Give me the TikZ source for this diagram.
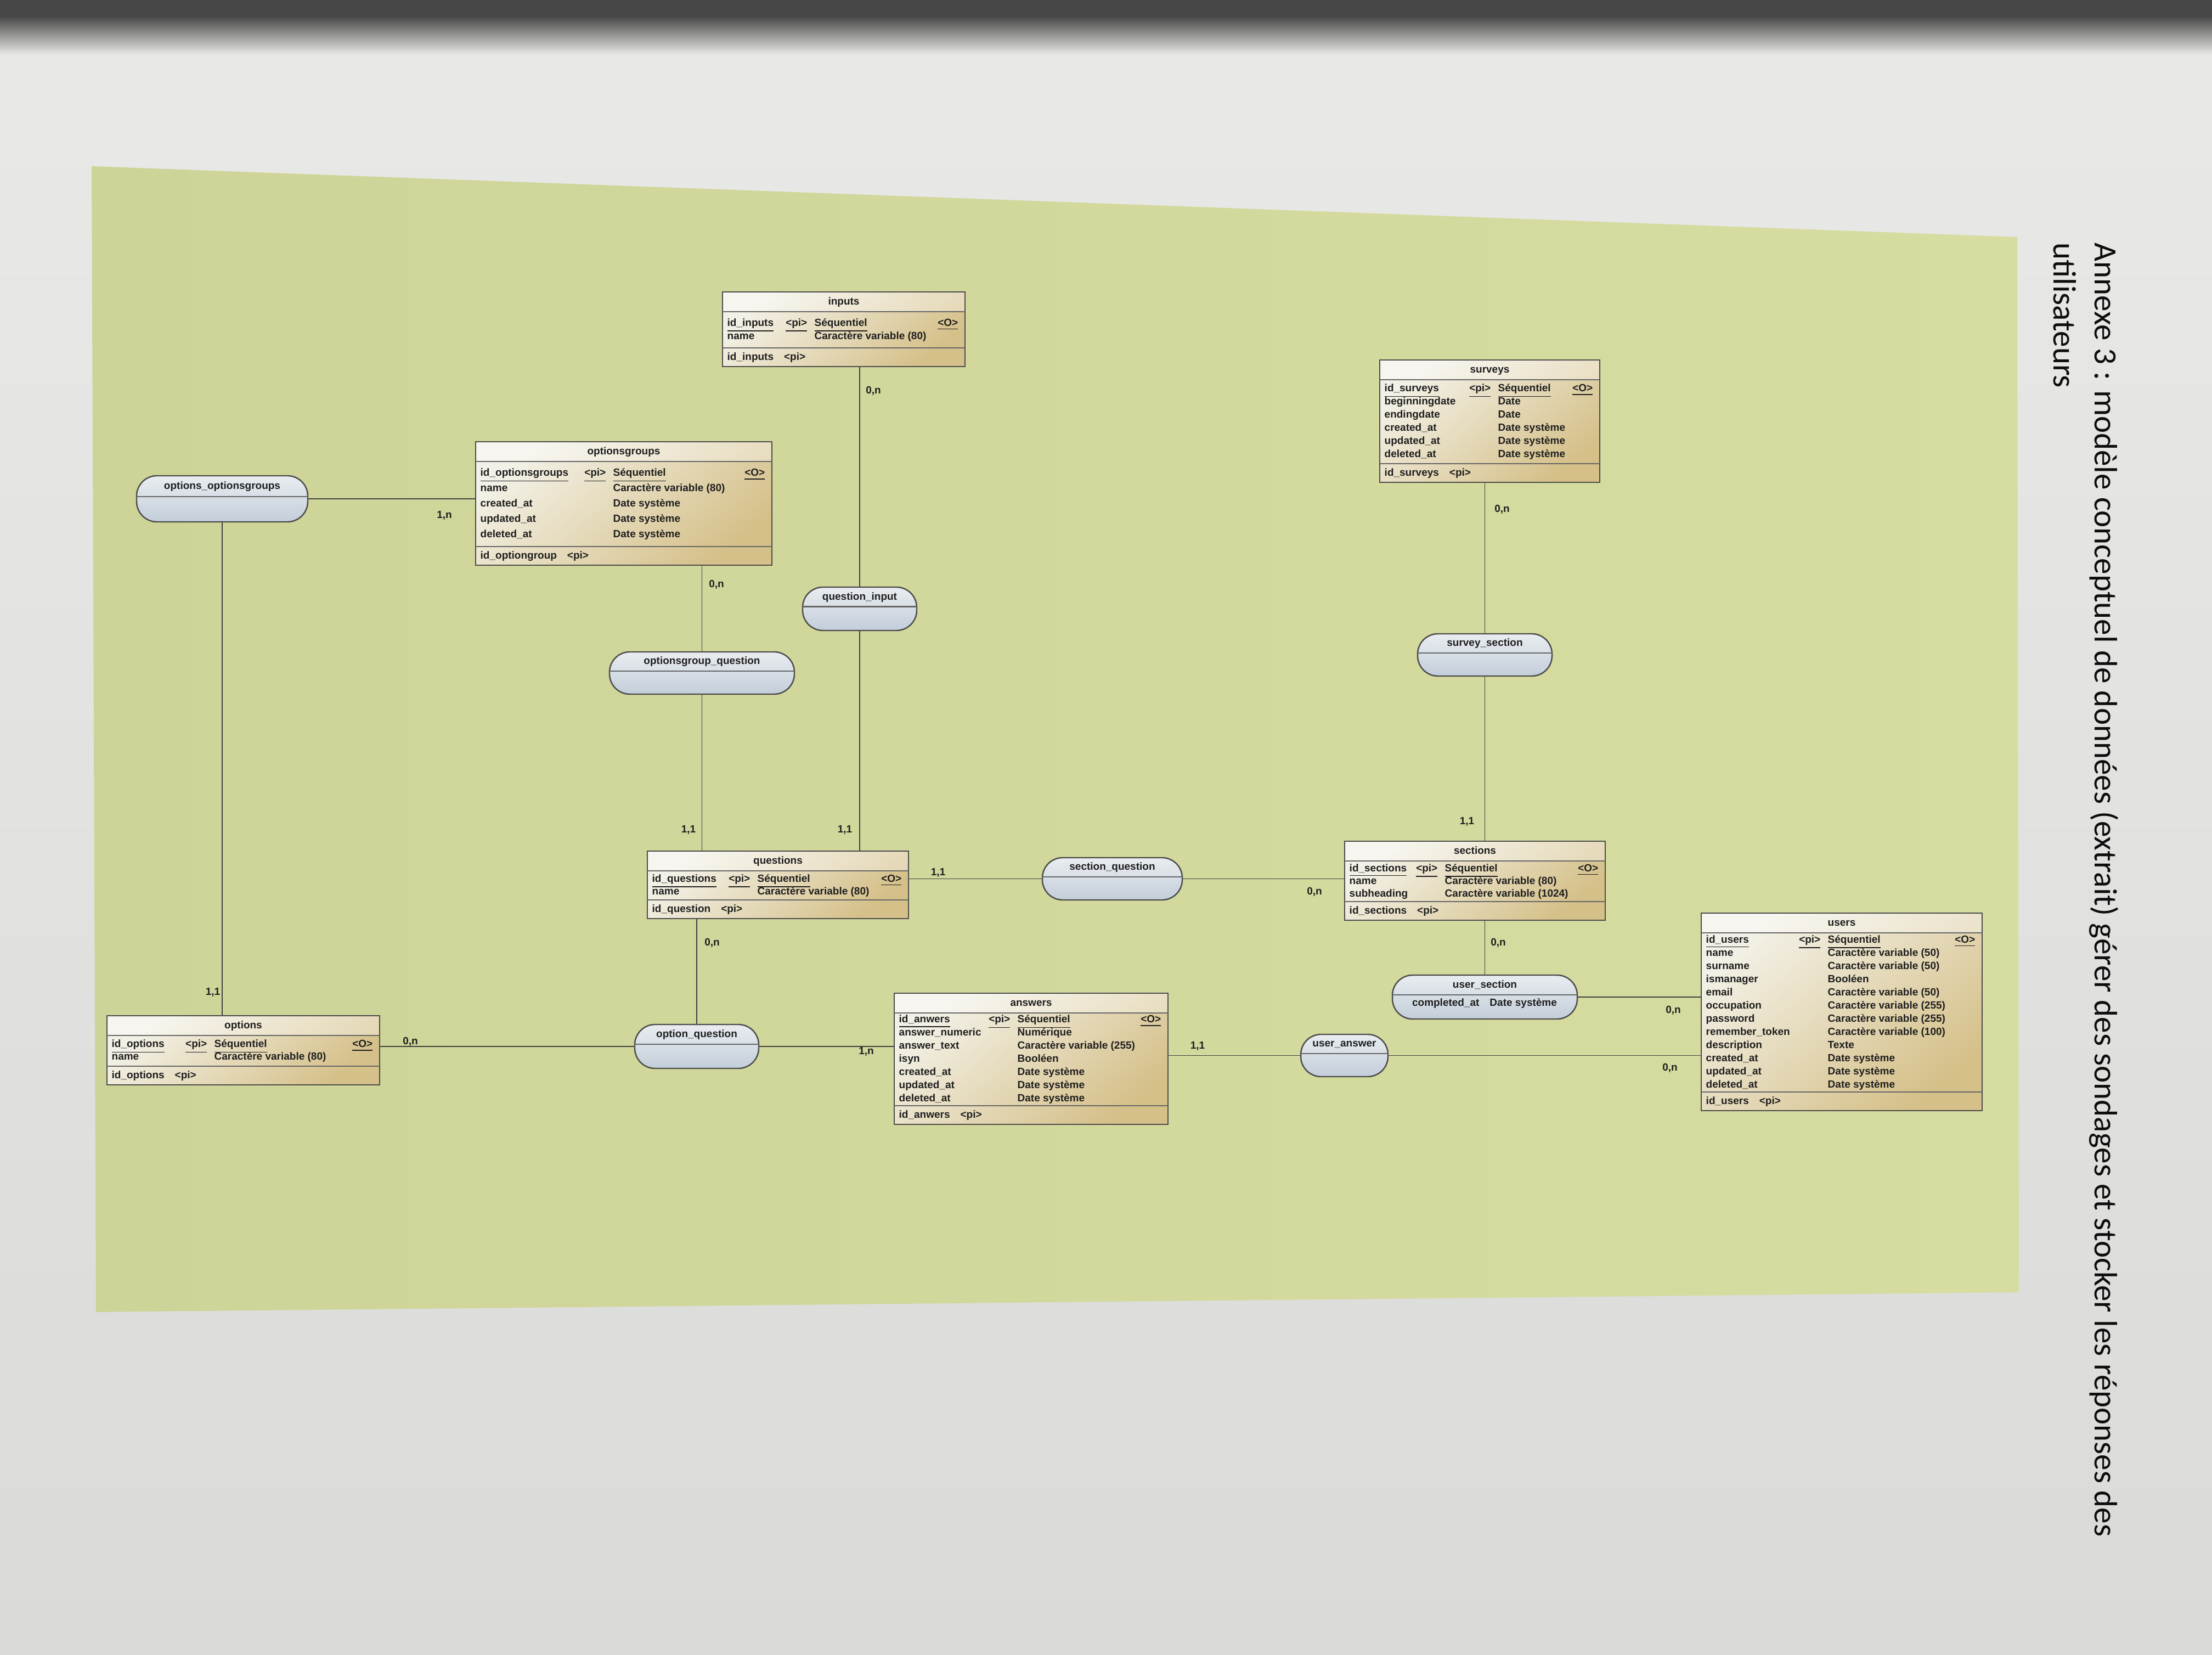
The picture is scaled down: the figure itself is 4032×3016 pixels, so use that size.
\documentclass[tikz,border=0pt]{standalone}
\usepackage{fontspec}
\setmainfont{Liberation Sans}
\newfontfamily\titlefont{Carlito}
\usetikzlibrary{fit}
\definecolor{pagebg}{HTML}{E9E9E7}
\definecolor{pagebgb}{HTML}{DADAD8}
\definecolor{greenbg}{HTML}{D7DCA0}
\definecolor{greenbgb}{HTML}{CED497}
\definecolor{entlight}{HTML}{F3F1E7}
\definecolor{enttan}{HTML}{D5C089}
\definecolor{assolight}{HTML}{E9EDF0}
\definecolor{assodark}{HTML}{C3CEDA}
\definecolor{inkc}{HTML}{1E1E1E}

\newcommand{\EntGeo}[7]{\def\EX{#1}\def\EY{#2}\def\EXX{#3}\def\EYY{#4}\def\ET{#5}\def\ES{#6}\def\EN{#7}}
\newcommand{\Entity}[5]{%
  \node[ent, fit={(\EX,\EY) (\EXX,\EYY)}] (#1) {};
  \fill[white, opacity=0.35] (\EX+1,\EY+1) rectangle (\EXX-1,\EY+35);
  \node[etxt] (#1-title) at ({(\EX+\EXX)/2},\EY+18) {#2};
  \draw[sepline] (\EX,\EY+36) -- (\EXX,\EY+36);
  \draw[sepline] (\EX,\EYY-34) -- (\EXX,\EYY-34);
  \pgfmathsetmacro\rtop{(\EY+36+\EYY-34)/2-(\EN-1)*\ES/2}
  \node[etxt, anchor=west] (#1-id) at (\EX+8,\rtop) {\underline{#3}};
  \node[etxt, anchor=east] (#1-pi) at (\EX+\ET-12,\rtop) {\underline{<pi>}};
  \node[etxt, anchor=west] (#1-seq) at (\EX+\ET,\rtop) {\underline{Séquentiel}};
  \node[etxt, anchor=east] (#1-o) at (\EXX-12,\rtop) {\underline{<O>}};
  \foreach \a/\b [count=\i] in {#4} {
    \node[etxt, anchor=west] (#1-n\i) at (\EX+8,\rtop+\i*\ES) {\a};
    \node[etxt, anchor=west] (#1-ty\i) at (\EX+\ET,\rtop+\i*\ES) {\b};
  }
  \node[etxt, anchor=west] (#1-foot) at (\EX+8,\EYY-17) {#5\enspace\enspace<pi>};
}
\newcommand{\Asso}[6]{%
  \node[asso, fit={(#2,#3) (#4,#5)}] (#1) {};
  \draw[sepline] (#2,{#3+0.45*(#5-#3)}) -- (#4,{#3+0.45*(#5-#3)});
  \node[etxt] (#1-title) at ({(#2+#4)/2},{#3+0.23*(#5-#3)}) {#6};
}

\begin{document}
\begin{tikzpicture}[x=0.01cm, y=-0.01cm,
  ent/.style={draw=black!70, line width=0.7pt, inner sep=0pt,
    top color=entlight, bottom color=enttan, shading angle=40},
  asso/.style={draw=black!70, line width=0.7pt, inner sep=0pt, rounded corners=10.5pt,
    top color=assolight, bottom color=assodark},
  sepline/.style={draw=black!60, line width=0.6pt},
  etxt/.style={font=\fontsize{5.4}{6}\selectfont\bfseries, text=inkc, inner sep=0pt,
    text height=4.2pt, text depth=1.2pt},
  card/.style={font=\fontsize{5.4}{6}\selectfont\bfseries, text=inkc, inner sep=0pt},
  lnk/.style={draw=black!75, line width=0.55pt},
  titletxt/.style={font=\titlefont\fontsize{16.8}{20}\selectfont, text=black!95, inner sep=0pt}]

\useasboundingbox (0,0) rectangle (4032,3016);
% page
\shade[top color=pagebg, bottom color=pagebgb] (0,0) rectangle (4032,3016);
\fill[black!72] (0,0) rectangle (4032,30);
\shade[top color=black!72, bottom color=pagebg] (0,30) rectangle (4032,100);
% green diagram area
\begin{scope}
  \clip (167,303) -- (3677,432) -- (3680,2355) -- (175,2391) -- cycle;
  \shade[left color=greenbgb, right color=greenbg] (150,290) rectangle (3700,2400);
\end{scope}

% entities
\EntGeo{1317}{532}{1759}{668}{167}{24}{2}
\Entity{inputs}{inputs}{id\_inputs}{name/Caractère variable (80)}{id\_inputs}

\EntGeo{867}{805}{1407}{1030}{250}{28}{5}
\Entity{og}{optionsgroups}{id\_optionsgroups}{name/Caractère variable (80), created\_at/Date système, updated\_at/Date système, deleted\_at/Date système}{id\_optiongroup}

\EntGeo{2515}{656}{2916}{879}{215}{24}{6}
\Entity{surveys}{surveys}{id\_surveys}{beginningdate/Date, endingdate/Date, created\_at/Date système, updated\_at/Date système, deleted\_at/Date système}{id\_surveys}

\EntGeo{1180}{1551}{1656}{1674}{200}{23}{2}
\Entity{questions}{questions}{id\_questions}{name/Caractère variable (80)}{id\_question}

\EntGeo{2451}{1533}{2926}{1677}{182}{23}{3}
\Entity{sections}{sections}{id\_sections}{name/Caractère variable (80), subheading/Caractère variable (1024)}{id\_sections}

\EntGeo{3101}{1664}{3613}{2024}{230}{24}{12}
\Entity{users}{users}{id\_users}{name/Caractère variable (50), surname/Caractère variable (50), ismanager/Booléen, email/Caractère variable (50), occupation/Caractère variable (255), password/Caractère variable (255), remember\_token/Caractère variable (100), description/Texte, created\_at/Date système, updated\_at/Date système, deleted\_at/Date système}{id\_users}

\EntGeo{1630}{1810}{2129}{2049}{224}{24}{7}
\Entity{answers}{answers}{id\_anwers}{answer\_numeric/Numérique, answer\_text/Caractère variable (255), isyn/Booléen, created\_at/Date système, updated\_at/Date système, deleted\_at/Date système}{id\_anwers}

\EntGeo{195}{1851}{692}{1977}{195}{23}{2}
\Entity{options}{options}{id\_options}{name/Caractère variable (80)}{id\_options}

% associations
\Asso{oog}{249}{867}{561}{951}{options\_optionsgroups}
\Asso{ogq}{1111}{1188}{1448}{1265}{optionsgroup\_question}
\Asso{qi}{1463}{1070}{1671}{1149}{question\_input}
\Asso{ss}{2584}{1155}{2829}{1232}{survey\_section}
\Asso{sq}{1900}{1563}{2155}{1640}{section\_question}
\Asso{us}{2538}{1777}{2875}{1857}{user\_section}
\node[etxt] (us-body) at (2706,1828) {completed\_at\enspace\enspace Date système};
\Asso{oq}{1157}{1867}{1383}{1947}{option\_question}
\Asso{ua}{2371}{1885}{2530}{1962}{user\_answer}

% connectors
\draw[lnk] (qi.north |- inputs.south) -- (qi.north);
\draw[lnk] (qi.south) -- (qi.south |- questions.north);
\draw[lnk] (ogq.north |- og.south) -- (ogq.north);
\draw[lnk] (ogq.south) -- (ogq.south |- questions.north);
\draw[lnk] (oog.east) -- (oog.east -| og.west);
\draw[lnk] (oog.south) -- (oog.south |- options.north);
\draw[lnk] (sq.west -| questions.east) -- (sq.west);
\draw[lnk] (sq.east) -- (sq.east -| sections.west);
\draw[lnk] (ss.north |- surveys.south) -- (ss.north);
\draw[lnk] (ss.south) -- (ss.south |- sections.north);
\draw[lnk] (us.north |- sections.south) -- (us.north);
\draw[lnk] (us.east) -- (us.east -| users.west);
\draw[lnk] (oq.north |- questions.south) -- (oq.north);
\draw[lnk] (oq.west -| options.east) -- (oq.west);
\draw[lnk] (oq.east) -- (oq.east -| answers.west);
\draw[lnk] (ua.west -| answers.east) -- (ua.west);
\draw[lnk] (ua.east) -- (ua.east -| users.west);

% cardinalities
\node[card] (c1) at (1592,712) {0,n};
\node[card] (c2) at (1540,1512) {1,1};
\node[card] (c3) at (1306,1065) {0,n};
\node[card] (c4) at (1255,1512) {1,1};
\node[card] (c5) at (810,939) {1,n};
\node[card] (c6) at (388,1808) {1,1};
\node[card] (c7) at (1710,1590) {1,1};
\node[card] (c8) at (2396,1625) {0,n};
\node[card] (c9) at (2738,928) {0,n};
\node[card] (c10) at (2674,1497) {1,1};
\node[card] (c11) at (2731,1718) {0,n};
\node[card] (c12) at (3050,1841) {0,n};
\node[card] (c13) at (1298,1718) {0,n};
\node[card] (c14) at (748,1898) {0,n};
\node[card] (c15) at (1579,1916) {1,n};
\node[card] (c16) at (2183,1906) {1,1};
\node[card] (c17) at (3044,1946) {0,n};

% title
\node[titletxt, rotate=-90, anchor=base west] (t1) at (3818,442) {Annexe 3 : modèle conceptuel de données (extrait) gérer des sondages et stocker les réponses des};
\node[titletxt, rotate=-90, anchor=base west] (t2) at (3743,442) {utilisateurs};
\end{tikzpicture}
\end{document}
